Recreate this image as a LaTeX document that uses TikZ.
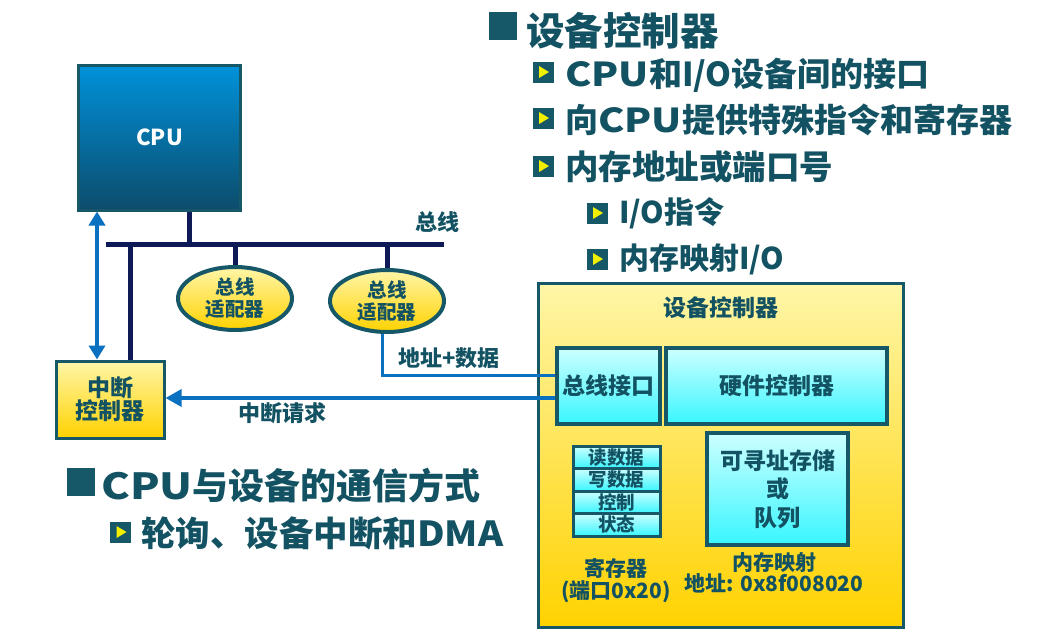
\documentclass[tikz,border=0pt]{standalone}
\usepackage{fontspec}
\setmainfont{Noto Sans CJK SC}
\usetikzlibrary{arrows.meta,shapes.geometric}
\definecolor{txt}{RGB}{18,82,98}
\definecolor{bord}{RGB}{22,88,104}
\definecolor{navy}{RGB}{14,26,88}
\definecolor{lblue}{RGB}{10,112,192}
\definecolor{cpuTop}{RGB}{0,146,218}
\definecolor{cpuBot}{RGB}{12,76,108}
\definecolor{yelTop}{RGB}{255,246,168}
\definecolor{yelBot}{RGB}{255,210,0}
\definecolor{cyTop}{RGB}{205,255,255}
\definecolor{cyBot}{RGB}{56,246,255}
\definecolor{bullY}{RGB}{240,240,0}
\newcommand\wideCPU{\scalebox{1.2}[1]{CPU}}
\tikzset{
  fs/.style={font=\fontsize{#1}{#1}\selectfont\bfseries},
  cpubox/.style={draw=bord, line width=3pt, top color=cpuTop, bottom color=cpuBot, text=white, fs=22},
  ellbox/.style={ellipse, draw=bord, line width=4pt, top color=yelTop, bottom color=yelBot, font=\fontsize{19.5}{22}\selectfont\bfseries},
  yelbox/.style={draw=bord, line width=3pt, top color=yelTop, bottom color=yelBot},
  cybox/.style={draw=bord, line width=3.5pt, top color=cyTop, bottom color=cyBot, fs=23},
  regrow/.style={draw=bord, line width=3pt, top color=cyTop, bottom color=cyBot, fs=18.5, minimum width=87pt, minimum height=22.5pt},
  busln/.style={draw=navy, line width=5pt},
  blueln/.style={draw=lblue, line width=3.5pt},
  sqbullet/.style={fill=bord, minimum size=#1, inner sep=0pt},
  tribullet/.style={fill=bord, minimum width=21pt, minimum height=21pt, inner sep=0pt,
    path picture={\fill[bullY] ([shift={(-4pt,-6pt)}]path picture bounding box.center) -- ++(10pt,6pt) -- ++(-10pt,6pt) -- cycle;}},
}
\begin{document}
\begin{tikzpicture}[x=1pt,y=-1pt, every node/.style={text=txt, inner sep=0pt, align=center}]
\useasboundingbox (0,0) rectangle (1055,638);

% ---- top-right bullet text
\node[sqbullet=28pt] (s1) at (502.5,25.5) {};
\node[anchor=west, fs=38.5] (t1) at (526,31) {设备控制器};
\node[tribullet] (b1) at (543,72) {};
\node[anchor=west, fs=33] (t2) at (565,75) {\wideCPU 和I/O设备间的接口};
\node[tribullet] (b2) at (543,118) {};
\node[anchor=west, fs=33] (t3) at (565,120) {向\wideCPU 提供特殊指令和寄存器};
\node[tribullet] (b3) at (543,166) {};
\node[anchor=west, fs=33.5] (t4) at (565,167) {内存地址或端口号};
\node[tribullet] (b4) at (597,213) {};
\node[anchor=west, fs=30] (t5) at (619,213) {I/O指令};
\node[tribullet] (b5) at (597,259) {};
\node[anchor=west, fs=30] (t6) at (619,259) {内存映射I/O};

% ---- bottom-left text
\node[sqbullet=28pt] (s2) at (80.5,482) {};
\node[anchor=west, fs=36] (t7) at (101,486) {\wideCPU 与设备的通信方式};
\node[tribullet] (b6) at (120.5,532) {};
\node[anchor=west, fs=34.5] (t8) at (141,533) {轮询、设备中断和\scalebox{1.1}[1]{DMA}};

% ---- device controller
\node[yelbox, minimum width=365pt, minimum height=344pt] (dev) at (720.5,455) {};
\node[fs=23] (devt) at (721,308) {设备控制器};
\node[cybox, minimum width=103pt, minimum height=76pt] (busif) at (608.5,386) {总线接口};
\node[cybox, minimum width=221pt, minimum height=76pt] (hwc) at (776.5,386) {硬件控制器};
\node[regrow] (r1) at (616.5,457.25) {读数据};
\node[regrow] (r2) at (616.5,479.75) {写数据};
\node[regrow] (r3) at (616.5,502.25) {控制};
\node[regrow] (r4) at (616.5,524.75) {状态};
\node[cybox, minimum width=141pt, minimum height=112pt, font=\fontsize{23}{28.5}\selectfont\bfseries] (mem) at (777.5,489) {可寻址存储\\或\\队列};
\node[font=\fontsize{21}{22}\selectfont\bfseries] (regl) at (616,581) {寄存器\\(端口0x20)};
\node[font=\fontsize{21}{21}\selectfont\bfseries] (meml) at (774,572.5) {内存映射\\地址: 0x8f008020};

% ---- left part
\node[cpubox, minimum width=162pt, minimum height=145pt] (cpu) at (159.5,137.5) {CPU};
\node[ellbox, minimum width=114pt, minimum height=63pt] (ell1) at (235,298.5) {总线\\适配器};
\node[ellbox, minimum width=114pt, minimum height=62pt] (ell2) at (387,301) {总线\\适配器};
\node[yelbox, minimum width=108pt, minimum height=77pt, font=\fontsize{23}{22}\selectfont\bfseries] (intc) at (110,399.5) {中断\\控制器};

\node[fs=22] (busl) at (437,222) {总线};
\node[fs=22] (adl) at (449,358) {地址+数据};
\node[fs=22] (irl) at (282,413) {中断请求};

% ---- connectors
\coordinate (busL) at (106,244);
\coordinate (busR) at (444,244);
\coordinate (cpuj) at (189,244);
\coordinate (intj) at (130,244);
\coordinate (arx) at (97,0);
\coordinate (ady) at (0,375);
\coordinate (iry) at (0,398);
\draw[busln] (busL) -- (busR);
\draw[busln] (cpuj |- cpu.south) -- (cpuj);
\draw[busln] (intj) -- (intj |- intc.north);
\draw[busln] (ell1.north |- busL) -- (ell1.north);
\draw[busln] (ell2.north |- busL) -- (ell2.north);
\draw[blueln, line width=4pt, {Triangle[width=16pt,length=14pt]}-{Triangle[width=16pt,length=14pt]}] (arx |- cpu.south) -- (arx |- intc.north);
\draw[blueln, line width=3pt] ([xshift=-5pt]ell2.south) -- ([xshift=-5pt]ell2.south |- ady) -- (busif.west |- ady);
\draw[blueln, -{Triangle[width=17pt,length=16pt]}] (busif.west |- iry) -- (intc.east |- iry);
\end{tikzpicture}
\end{document}
